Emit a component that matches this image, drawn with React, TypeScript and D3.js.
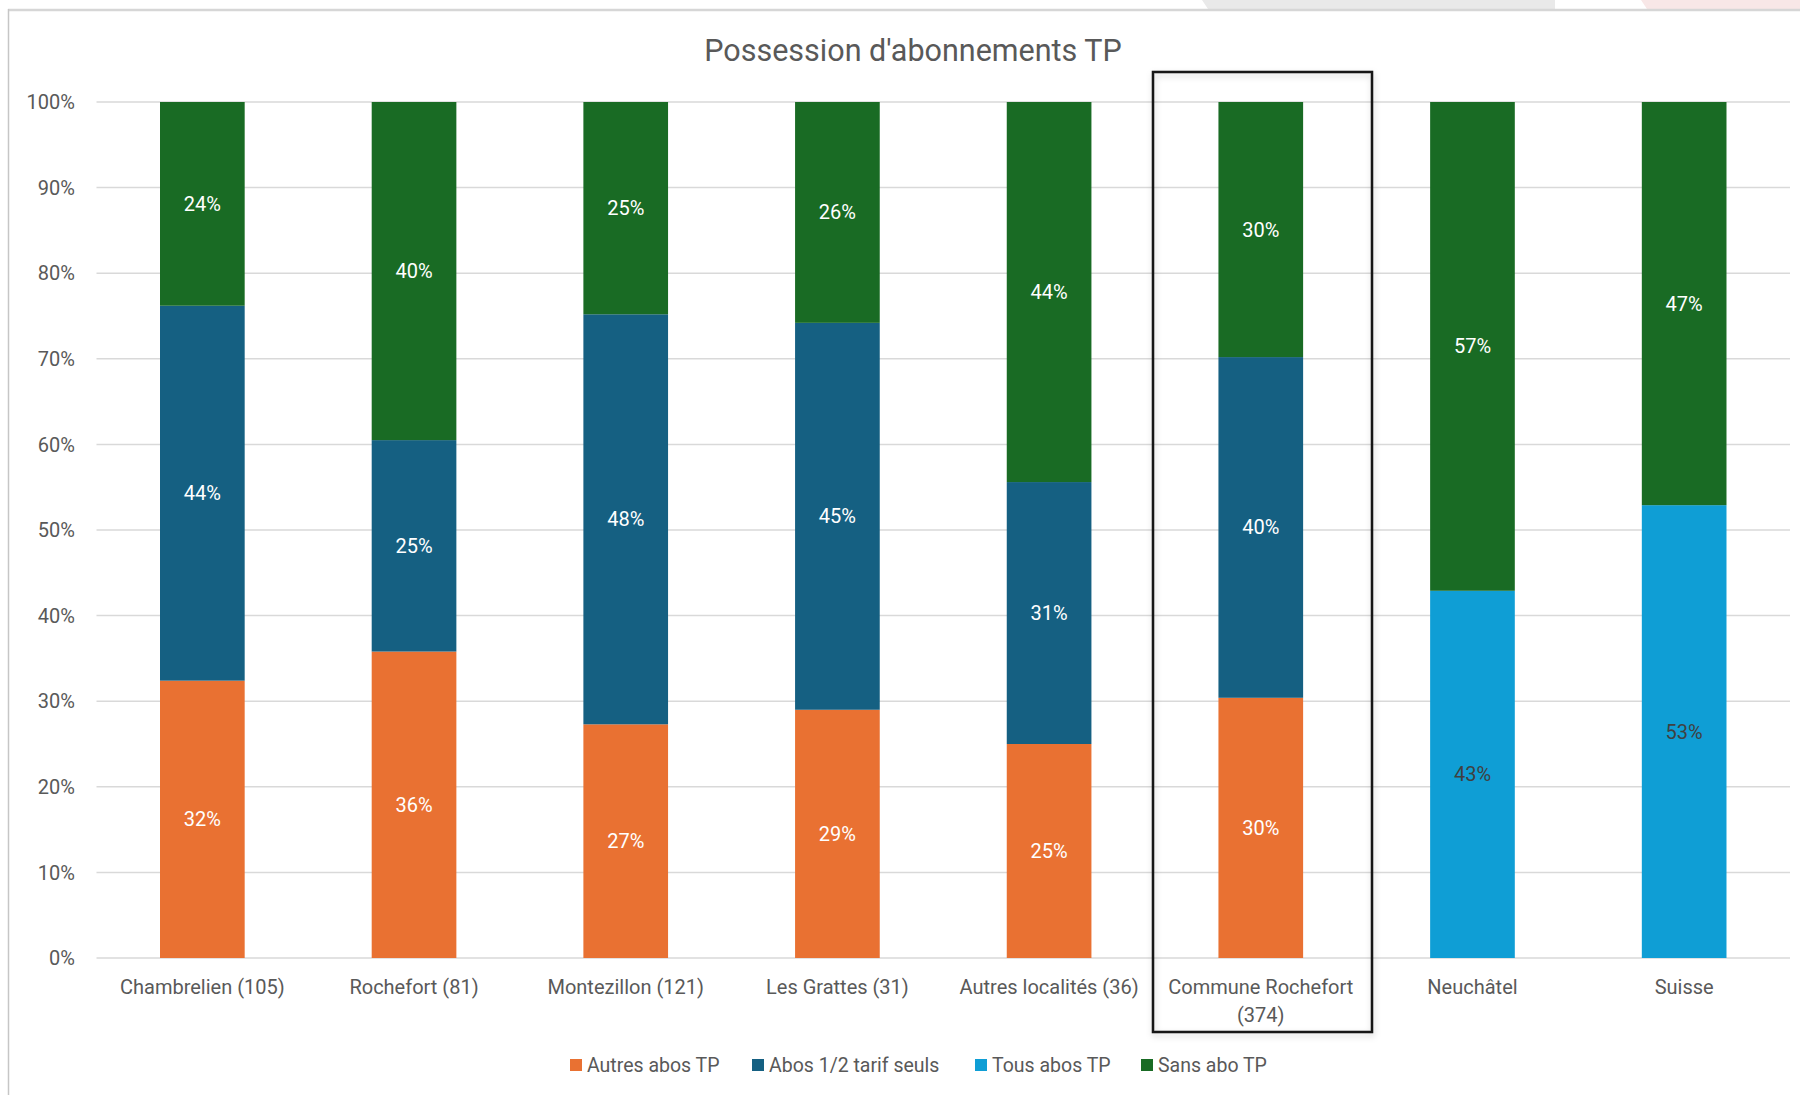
import React from "react";
import * as d3 from "d3";

const categories = [
  ["Chambrelien (105)"],
  ["Rochefort (81)"],
  ["Montezillon (121)"],
  ["Les Grattes (31)"],
  ["Autres localités (36)"],
  ["Commune Rochefort", "(374)"],
  ["Neuchâtel"],
  ["Suisse"],
];

const seriesNames = ["Autres abos TP", "Abos 1/2 tarif seuls", "Tous abos TP", "Sans abo TP"];

// Shares per category, in percent
const autresAbos = [32.4, 35.8, 27.3, 29.0, 25.0, 30.4, 0, 0];
const demiTarif = [43.8, 24.7, 47.9, 45.2, 30.6, 39.8, 0, 0];
const tousAbos = [0, 0, 0, 0, 0, 0, 42.9, 52.9];
const sansAbo = [23.8, 39.5, 24.8, 25.8, 44.4, 29.8, 57.1, 47.1];

const yTicks = [0, 10, 20, 30, 40, 50, 60, 70, 80, 90, 100];

const colors = ["#E97132", "#156082", "#0F9ED5", "#196B24"];
const labelColors = ["#ffffff", "#ffffff", "#404040", "#ffffff"];

const FONT = "Roboto, 'Liberation Sans', Arial, sans-serif";
const TEXT = "#595959";

export default function App() {
  const W = 1800;
  const H = 1095;
  const keys = categories.map((c) => c.join(" "));
  const x = d3.scaleBand<string>().domain(keys).range([96.5, 1790]).paddingInner(0.6).paddingOuter(0.3);
  const y = d3.scaleLinear().domain([0, 100]).range([958, 102]);

  const rows = keys.map((k, i) => ({
    key: k,
    s0: autresAbos[i],
    s1: demiTarif[i],
    s2: tousAbos[i],
    s3: sansAbo[i],
  }));
  const stack = d3.stack<any>().keys(["s0", "s1", "s2", "s3"]);
  const layers = stack(rows);

  const legendX = [570, 752, 975, 1141];

  return (
    <svg
      width={W}
      height={H}
      style={{ position: "absolute", left: 0, top: 0, background: "#fff" }}
      fontFamily={FONT}
    >
      <defs>
        <filter id="shadow" x="-10%" y="-5%" width="120%" height="110%">
          <feDropShadow dx="1" dy="3" stdDeviation="3" floodColor="#000" floodOpacity="0.18" />
        </filter>
      </defs>
      {/* faint shapes above the chart area */}
      <polygon points="1202,0 1555,0 1555,9 1208,9" fill="#e9e9e9" />
      <polygon points="1641,0 1800,0 1800,9 1647,9" fill="#f8e7e7" />
      <rect x={8} y={9} width={W - 8} height={H - 9} fill="#fff" />
      <line x1={8} x2={W} y1={10} y2={10} stroke="#d6d6d6" strokeWidth={2.5} />
      <line x1={8.5} x2={8.5} y1={9} y2={H} stroke="#c6c6c6" strokeWidth={1.5} />

      <text x={913} y={61} textAnchor="middle" fontSize={30.5} fill={TEXT}>
        Possession d'abonnements TP
      </text>

      {yTicks.map((t) => (
        <g key={t}>
          <line x1={96.5} x2={1790} y1={y(t)} y2={y(t)} stroke="#d9d9d9" strokeWidth={1.5} />
          <text x={75} y={y(t) + 7.2} textAnchor="end" fontSize={20} fill={TEXT}>
            {t}%
          </text>
        </g>
      ))}

      {layers.map((layer, li) => (
        <g key={li}>
          {layer.map((d, i) => {
            const v = d[1] - d[0];
            if (v <= 0) return null;
            const x0 = x(keys[i])!;
            const bw = x.bandwidth();
            return (
              <g key={i}>
                <rect x={x0} y={y(d[1])} width={bw} height={y(d[0]) - y(d[1])} fill={colors[li]} />
                <text
                  x={x0 + bw / 2}
                  y={(y(d[0]) + y(d[1])) / 2 + 7}
                  textAnchor="middle"
                  fontSize={20}
                  fill={labelColors[li]}
                >
                  {Math.round(v)}%
                </text>
              </g>
            );
          })}
        </g>
      ))}

      {categories.map((lines, i) => (
        <text key={i} textAnchor="middle" fontSize={20} fill={TEXT}>
          {lines.map((ln, j) => (
            <tspan key={j} x={x(keys[i])! + x.bandwidth() / 2} y={994 + j * 28}>
              {ln}
            </tspan>
          ))}
        </text>
      ))}

      {/* highlight around the whole commune */}
      <rect
        x={1153}
        y={72}
        width={219}
        height={960}
        fill="none"
        stroke="#151515"
        strokeWidth={2.5}
        filter="url(#shadow)"
      />

      {seriesNames.map((n, i) => (
        <g key={n}>
          <rect x={legendX[i]} y={1059} width={12} height={12} fill={colors[i]} />
          <text x={legendX[i] + 17} y={1072} fontSize={19.5} fill={TEXT}>
            {n}
          </text>
        </g>
      ))}
    </svg>
  );
}
